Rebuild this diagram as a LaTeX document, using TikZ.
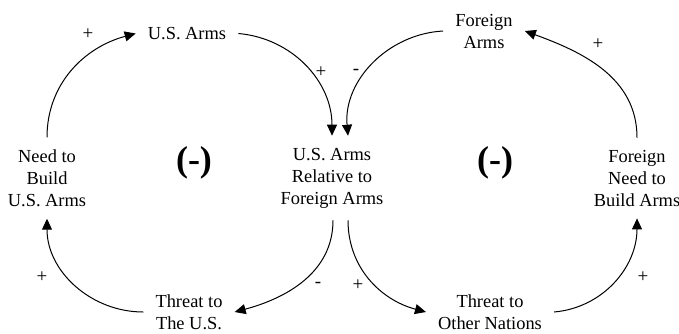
\documentclass[tikz,border=0pt]{standalone}
\usepackage{fontspec}
\setmainfont{Liberation Serif}
\usetikzlibrary{arrows.meta}

\tikzset{
  var/.style={align=center, inner sep=12pt, font=\fontsize{18.4}{22}\selectfont},
  sign/.style={inner sep=0pt, font=\fontsize{19}{19}\selectfont},
  loop/.style={inner sep=0pt, font=\fontsize{36}{36}\selectfont\bfseries},
  link/.style={line width=1pt, -{Triangle[length=11pt,width=10pt]}}
}

\begin{document}
\begin{tikzpicture}[x=1pt, y=1pt]
\useasboundingbox (0,0) rectangle (679,-333);

% Variables
\node[var] (usArms)  at (187,-33.5) {U.S. Arms};
\node[var] (forArms) at (484,-31)   {Foreign\\Arms};
\node[var] (needUS)  at (47,-178)   {Need to\\Build\\U.S. Arms};
\node[var] (rel)     at (332,-178)  {U.S. Arms\\Relative to\\Foreign Arms};
\node[var] (needFor) at (637,-178)  {Foreign\\Need to\\Build Arms};
\node[var] (thrUS)   at (189,-312)  {Threat to\\The U.S.};
\node[var] (thrOth)  at (490,-312)  {Threat to\\Other Nations};

\node[loop] (loopL) at (194,-163) {(-)};
\node[loop] (loopR) at (495,-163) {(-)};

% Links
\draw[link] (needUS.north) to[out=90,in=195] (usArms.west);
\draw[link] (usArms.east) to[out=-5,in=90] (rel.north);
\draw[link] (forArms.west) to[out=183,in=95] ([xshift=16pt]rel.north);
\draw[link] (needFor.north) to[out=90,in=-20] (forArms.east);
\draw[link] ([xshift=1pt]rel.south) to[out=-90,in=15] (thrUS.east);
\draw[link] (thrUS.west) to[out=180,in=-90] (needUS.south);
\draw[link] ([xshift=16pt]rel.south) to[out=-90,in=165] (thrOth.west);
\draw[link] (thrOth.east) to[out=5,in=-90] (needFor.south);

% Polarities
\node[sign] (s1) at (88,-34)   {+};
\node[sign] (s2) at (321,-72)  {+};
\node[sign] (s3) at (356,-72)  {-};
\node[sign] (s4) at (598,-44)  {+};
\node[sign] (s5) at (318,-285) {-};
\node[sign] (s6) at (42,-277)  {+};
\node[sign] (s7) at (358,-285) {+};
\node[sign] (s8) at (643,-277) {+};
\end{tikzpicture}
\end{document}
